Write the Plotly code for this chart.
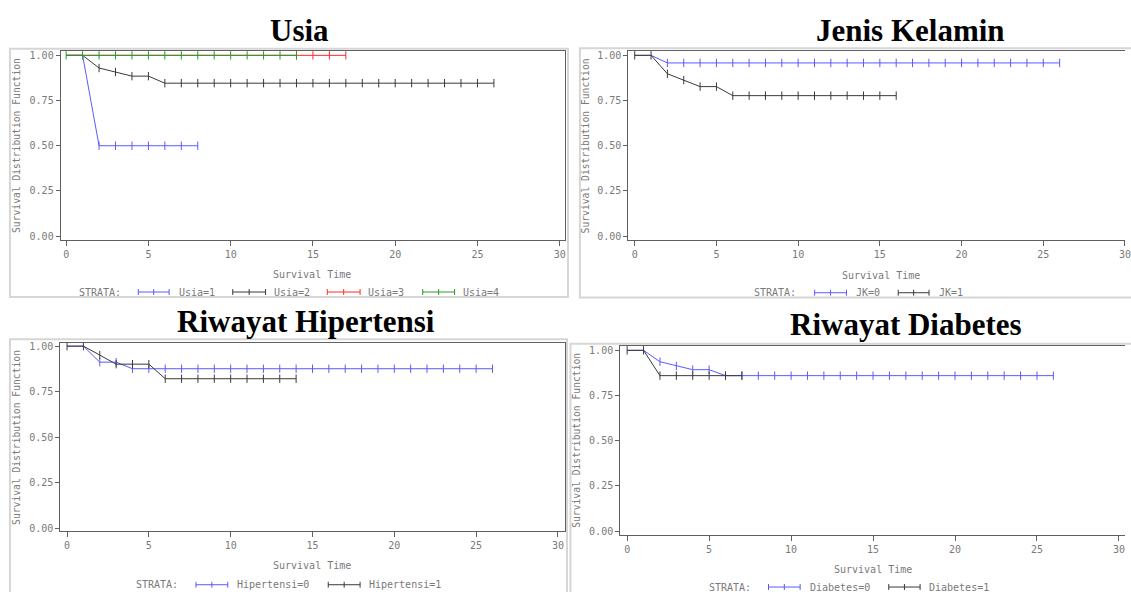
import plotly.graph_objects as go

W, H = 1131, 592

# ---------------- data ----------------
# Usia
usia1_t = [0, 1, 2, 8];                   usia1_s = [1.0, 1.0, 0.50, 0.50]
usia1_c = [2, 3, 4, 5, 6, 7, 8]
usia2_t = [0, 1, 2, 3, 4, 5, 6, 26];      usia2_s = [1.0, 1.0, 0.930, 0.908, 0.885, 0.885, 0.846, 0.846]
usia2_c = list(range(2, 27))
usia3_t = [0, 17];                        usia3_s = [1.0, 1.0]
usia3_c = [14, 15, 16, 17]
usia4_t = [0, 14];                        usia4_s = [1.0, 1.0]
usia4_c = list(range(0, 15))
# Jenis Kelamin
jk0_t = [0, 1, 2, 26];                    jk0_s = [1.0, 1.0, 0.958, 0.958]
jk0_c = list(range(2, 27))
jk1_t = [0, 1, 2, 3, 4, 5, 6, 16];        jk1_s = [1.0, 1.0, 0.898, 0.863, 0.827, 0.827, 0.777, 0.777]
jk1_c = list(range(0, 17))
# Riwayat Hipertensi
ht0_t = [0, 1, 2, 3, 4, 26];              ht0_s = [1.0, 1.0, 0.912, 0.912, 0.876, 0.876]
ht0_c = list(range(2, 27))
ht1_t = [0, 1, 2, 3, 5, 6, 14];           ht1_s = [1.0, 1.0, 0.951, 0.901, 0.901, 0.821, 0.821]
ht1_c = list(range(0, 15))
# Riwayat Diabetes
db0_t = [0, 1, 2, 3, 4, 5, 6, 26];        db0_s = [1.0, 1.0, 0.937, 0.913, 0.893, 0.893, 0.860, 0.860]
db0_c = list(range(2, 27))
db1_t = [0, 1, 2, 7];                     db1_s = [1.0, 1.0, 0.860, 0.860]
db1_c = list(range(0, 8))

x_ticks = [0, 5, 10, 15, 20, 25, 30]
y_ticks = [0.0, 0.25, 0.50, 0.75, 1.00]

titles = ["Usia", "Jenis Kelamin", "Riwayat Hipertensi", "Riwayat Diabetes"]
legend_names = [["Usia=1", "Usia=2", "Usia=3", "Usia=4"],
                ["JK=0", "JK=1"],
                ["Hipertensi=0", "Hipertensi=1"],
                ["Diabetes=0", "Diabetes=1"]]
x_title = "Survival Time"
y_title = "Survival Distribution Function"
strata_label = "STRATA:"

# ---------------- styling ----------------
BLUE = "#5a5aff"
BLACK = "#3a3a3a"
RED = "#ff2a2a"
GREEN = "#2a9a2a"
MONO = "DejaVu Sans Mono, monospace"
GREY_TXT = "#7a7a7a"
AXC = "#606060"

panels_series = [
    [(usia1_t, usia1_s, usia1_c, BLUE), (usia2_t, usia2_s, usia2_c, BLACK),
     (usia3_t, usia3_s, usia3_c, RED), (usia4_t, usia4_s, usia4_c, GREEN)],
    [(jk0_t, jk0_s, jk0_c, BLUE), (jk1_t, jk1_s, jk1_c, BLACK)],
    [(ht0_t, ht0_s, ht0_c, BLUE), (ht1_t, ht1_s, ht1_c, BLACK)],
    [(db0_t, db0_s, db0_c, BLUE), (db1_t, db1_s, db1_c, BLACK)],
]

# geometry in pixels: plot left/right/top/bottom, x=0 px, px per x unit, y=1 px, y=0 px
geom = [
    dict(l=61, r=568, t=49, b=240, x0=66.5, ppx=16.54, y1=53.7, y0=235.7, mirror_r=True),
    dict(l=631.7, r=1131, t=49.3, b=240, x0=638.1, ppx=16.43, y1=53.7, y0=235.7, mirror_r=False),
    dict(l=60.7, r=568, t=343.3, b=533, x0=67.4, ppx=16.45, y1=346.5, y0=529.7, mirror_r=True),
    dict(l=623.5, r=1131, t=346, b=537, x0=630.5, ppx=16.48, y1=350.7, y0=532.7, mirror_r=False),
]
frames = [(10, 47, 571, 297), (583, 46.5, 1140, 297.5), (10, 339.5, 570, 600), (573.5, 344, 1140, 600)]
title_pos = [(301, 29), (915, 29), (308, 322), (911, 325)]
ytitle_pos = [(16.4, 144.7), (588.5, 145), (16.5, 438.5), (579.4, 441.5)]
xtitle_pos = [(313.5, 274), (886, 275), (313.6, 567), (878, 571.5)]
# legend layout: y, strata x, [(line x0, line x1, text x), ...]
legends = [
    (292, 77, [(139, 170, 178), (234, 267, 273), (329, 362, 368), (425, 457, 463)]),
    (292.7, 756, [(819, 851, 858.7), (903, 934, 942)]),
    (586.7, 135, [(197, 229, 235.8), (330, 362, 368.5)]),
    (589, 710.5, [(772.6, 804.4, 812.3), (893.5, 925, 932)]),
]

def px(x):
    return x / W

def py(y):
    return 1 - y / H

def km_at(ts, ss, t):
    v = ss[0]
    for ti, si in zip(ts, ss):
        if ti <= t:
            v = si
    return v

fig = go.Figure()
shapes = []
annotations = []

for i, (series, g) in enumerate(zip(panels_series, geom)):
    n = "" if i == 0 else str(i + 1)
    xa, ya = "x" + n, "y" + n
    for (ts, ss, cs, col) in series:
        fig.add_trace(go.Scatter(x=ts, y=ss, mode="lines", xaxis=xa, yaxis=ya,
                                 line=dict(color=col, width=1), showlegend=False,
                                 hoverinfo="skip"))
        fig.add_trace(go.Scatter(x=cs, y=[km_at(ts, ss, c) for c in cs], mode="markers",
                                 xaxis=xa, yaxis=ya, showlegend=False, hoverinfo="skip",
                                 marker=dict(symbol="line-ns", size=6,
                                             line=dict(color=col, width=1))))
    xr = [(g["l"] - g["x0"]) / g["ppx"], (g["r"] - g["x0"]) / g["ppx"]]
    ppy = g["y0"] - g["y1"]
    yr = [(g["y0"] - g["b"]) / ppy, (g["y0"] - g["t"]) / ppy]
    xkey = "xaxis" + n
    ykey = "yaxis" + n
    fig.layout[xkey] = dict(domain=[px(g["l"]), min(1.0, px(g["r"]))], range=xr, anchor=ya,
                            tickvals=x_ticks, ticks="outside", ticklen=5, tickcolor=AXC,
                            showline=True, linecolor=AXC, linewidth=1, mirror=True,
                            showgrid=False, zeroline=False, ticklabeloverflow="allow",
                            tickfont=dict(family=MONO, size=10, color=GREY_TXT))
    fig.layout[ykey] = dict(domain=[py(g["b"]), py(g["t"])], range=yr, anchor=xa,
                            tickvals=y_ticks, tickformat=".2f", ticks="outside", ticklen=4,
                            tickcolor=AXC, showline=True, linecolor=AXC, linewidth=1,
                            mirror=g["mirror_r"], showgrid=False, zeroline=False,
                            tickfont=dict(family=MONO, size=10, color=GREY_TXT))
    # panel frame
    fx0, fy0, fx1, fy1 = frames[i]
    shapes.append(dict(type="rect", xref="paper", yref="paper", x0=px(fx0), x1=px(fx1),
                       y0=py(fy1), y1=py(fy0), line=dict(color="#d6d6d6", width=2),
                       layer="below"))
    # title
    tx, ty = title_pos[i]
    annotations.append(dict(text="<b>" + titles[i] + "</b>", x=px(tx), y=py(ty),
                            xref="paper", yref="paper", showarrow=False,
                            xanchor="center", yanchor="middle",
                            font=dict(family="Liberation Serif, Times New Roman, serif",
                                      size=31, color="black")))
    # axis titles
    ax_, ay_ = ytitle_pos[i]
    annotations.append(dict(text=y_title, x=px(ax_), y=py(ay_), xref="paper", yref="paper",
                            showarrow=False, textangle=-90, xanchor="center", yanchor="middle",
                            font=dict(family=MONO, size=9.7, color=GREY_TXT)))
    bx, by = xtitle_pos[i]
    annotations.append(dict(text=x_title, x=px(bx), y=py(by), xref="paper", yref="paper",
                            showarrow=False, xanchor="center", yanchor="middle",
                            font=dict(family=MONO, size=10, color=GREY_TXT)))
    # legend
    ly, sx, items = legends[i]
    annotations.append(dict(text=strata_label, x=px(sx), y=py(ly), xref="paper", yref="paper",
                            showarrow=False, xanchor="left", yanchor="middle",
                            font=dict(family=MONO, size=10, color=GREY_TXT)))
    for (lx0, lx1, ltx), name, (_, _, _, col) in zip(items, legend_names[i], series):
        shapes.append(dict(type="line", xref="paper", yref="paper", x0=px(lx0), x1=px(lx1),
                           y0=py(ly), y1=py(ly), line=dict(color=col, width=1)))
        for k in range(3):
            mx = lx0 + (lx1 - lx0) * k / 2
            shapes.append(dict(type="line", xref="paper", yref="paper", x0=px(mx), x1=px(mx),
                               y0=py(ly - 3), y1=py(ly + 3), line=dict(color=col, width=1)))
        annotations.append(dict(text=name, x=px(ltx), y=py(ly), xref="paper", yref="paper",
                                showarrow=False, xanchor="left", yanchor="middle",
                                font=dict(family=MONO, size=10, color=GREY_TXT)))

fig.update_layout(width=W, height=H, margin=dict(l=0, r=0, t=0, b=0),
                  paper_bgcolor="white", plot_bgcolor="white",
                  shapes=shapes, annotations=annotations, showlegend=False)

fig.write_html("out.html", config={"displayModeBar": False},
               post_script="document.body.style.margin='0';document.body.style.overflow='hidden';")
